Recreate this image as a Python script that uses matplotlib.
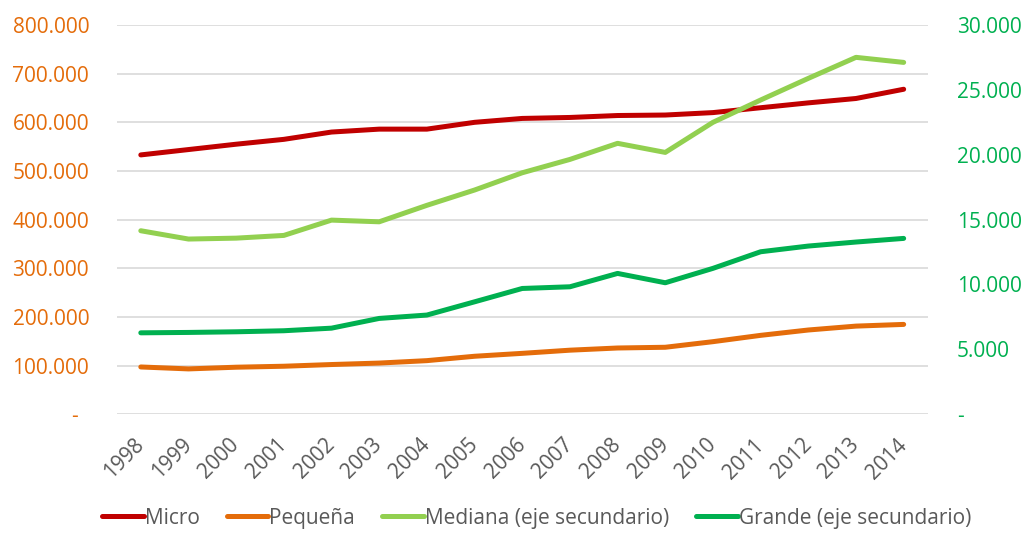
"""Empresas por tamaño, 1998-2014 (Micro/Pequeña eje principal, Mediana/Grande eje secundario)."""
import numpy as np
import matplotlib.pyplot as plt
from matplotlib.ticker import FuncFormatter

plt.rcParams['font.family'] = ['Open Sans', 'DejaVu Sans']

years = [str(y) for y in range(1998, 2015)]
micro = [533000, 544000, 555000, 565000, 580000, 586000, 586000, 600000, 608000,
         610000, 614000, 615000, 620000, 630000, 640000, 649000, 668000]
pequena = [97000, 93000, 96500, 98500, 102000, 105000, 110000, 119000, 125000,
           131500, 136000, 137500, 149000, 162000, 173000, 181000, 184500]
mediana = [14140, 13500, 13570, 13780, 14960, 14830, 16100, 17280, 18610,
           19640, 20880, 20180, 22500, 24220, 25890, 27510, 27120]
grande = [6270, 6300, 6350, 6430, 6630, 7380, 7640, 8660, 9690,
          9820, 10850, 10130, 11240, 12520, 12960, 13270, 13550]

C_MICRO = "#C00000"
C_PEQ = "#E46C0A"
C_MED = "#92D050"
C_GRA = "#00B050"


def miles(v, pos):
    if abs(v) < 1e-9:
        return "-  "
    return f"{v:,.0f}".replace(",", ".")


def miles_r(v, pos):
    if abs(v) < 1e-9:
        return "-"
    return f"{v:,.0f}".replace(",", ".")


x = np.arange(len(years))
fig = plt.figure(figsize=(10.26, 5.33), dpi=100)
ax = fig.add_axes([0.114, 0.223, 0.79, 0.730])
ax2 = ax.twinx()

l1, = ax.plot(x, micro, color=C_MICRO, lw=3.6, solid_capstyle="round", label="Micro")
l2, = ax.plot(x, pequena, color=C_PEQ, lw=3.6, solid_capstyle="round", label="Pequeña")
l3, = ax2.plot(x, mediana, color=C_MED, lw=3.6, solid_capstyle="round",
               label="Mediana (eje secundario)")
l4, = ax2.plot(x, grande, color=C_GRA, lw=3.6, solid_capstyle="round",
               label="Grande (eje secundario)")

ax.set_xlim(-0.5, len(years) - 0.5)
ax.set_ylim(0, 800000)
ax.set_yticks(np.arange(0, 800001, 100000))
ax2.set_ylim(0, 30000)
ax2.set_yticks(np.arange(0, 30001, 5000))
ax.yaxis.set_major_formatter(FuncFormatter(miles))
ax2.yaxis.set_major_formatter(FuncFormatter(miles_r))

ax.grid(axis="y", color="#D9D9D9", lw=1.2)
ax.set_axisbelow(True)
for a in (ax, ax2):
    for s in a.spines.values():
        s.set_visible(False)

ax.tick_params(axis="y", length=0, pad=20, labelsize=15, labelcolor=C_PEQ)
ax2.tick_params(axis="y", length=0, pad=21, labelsize=15, labelcolor=C_GRA)
ax.set_xticks(x)
ax.set_xticklabels(years, rotation=45, ha="right", va="center", rotation_mode="anchor")
ax.tick_params(axis="x", length=0, pad=20, labelsize=15, labelcolor="#595959")

fig.legend(handles=[l1, l2, l3, l4], loc="center", bbox_to_anchor=(0.523, 0.028),
           ncol=4, frameon=False, fontsize=15, handlelength=2.0,
           handletextpad=0.05, columnspacing=1.3, labelcolor="#595959")

fig.savefig("out.png", dpi=100)
